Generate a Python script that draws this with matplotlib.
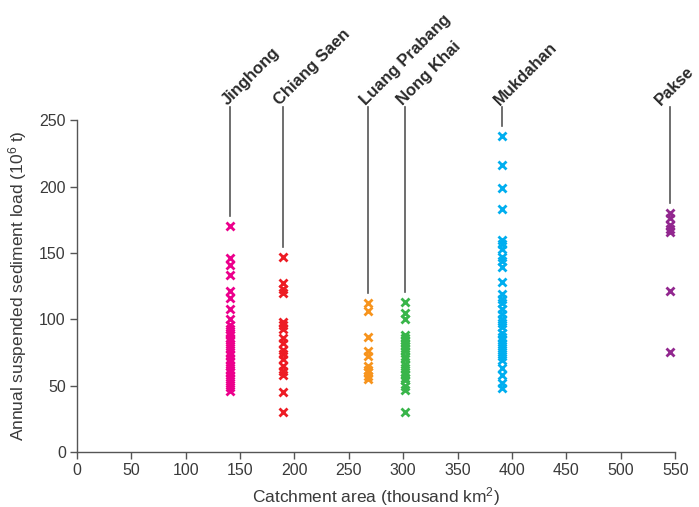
import matplotlib
matplotlib.use("Agg")
import matplotlib.pyplot as plt

# Catchment area (thousand km2) of each gauging station
stations = ["Jinghong", "Chiang Saen", "Luang Prabang", "Nong Khai", "Mukdahan", "Pakse"]
catchment = [141, 189, 268, 302, 391, 545]
colours = ["#EC008C", "#ED1C24", "#F7941D", "#39B54A", "#00AEEF", "#92278F"]

# Annual suspended sediment load (10^6 t) per year of record
load_jinghong = [170, 146, 141, 133, 121, 116, 108, 100, 96, 93, 90, 88, 86, 84,
                 81, 78, 75, 73, 70, 68, 65, 62, 60, 58, 55, 52, 49, 46]
load_chiang_saen = [147, 127, 123, 120, 98, 96, 93, 86, 82, 77, 74, 70, 65, 61,
                    58, 45, 30]
load_luang_prabang = [112, 106, 87, 76, 72, 65, 62, 60, 57, 55]
load_nong_khai = [113, 105, 100, 88, 86, 84, 82, 80, 78, 76, 72, 70, 66, 63, 60,
                  58, 56, 54, 50, 47, 30]
load_mukdahan = [238, 216, 199, 183, 160, 157, 153, 147, 144, 139, 128, 119, 115,
                 112, 108, 104, 100, 97, 94, 90, 87, 84, 81, 78, 75, 72, 69, 63,
                 58, 52, 48]
load_pakse = [180, 176, 171, 168, 166, 121, 75]

loads = [load_jinghong, load_chiang_saen, load_luang_prabang,
         load_nong_khai, load_mukdahan, load_pakse]

plt.rcParams["font.family"] = ["Liberation Sans", "DejaVu Sans"]
plt.rcParams["mathtext.default"] = "regular"

fig = plt.figure(figsize=(6.99, 5.07), dpi=100)
ax = fig.add_axes([0.110, 0.1085, 0.856, 0.6545])

text_col = "#3a3a3a"
axis_col = "#555555"

for name, x, ys, c in zip(stations, catchment, loads, colours):
    ax.plot([x] * len(ys), ys, linestyle="none", marker="x", markersize=6,
            markeredgewidth=2.0, color=c, clip_on=False)
    # leader line from the station name down to the top of its column
    top = max(ys) + 7.5
    ax.plot([x, x], [top, 260], color=axis_col, lw=1.2, clip_on=False)
    # the last label sits at the right edge, pull it in a little
    dx = -9 if x == catchment[-1] else -4
    ax.annotate(name, xy=(x, 260), xytext=(dx, 3), textcoords="offset points",
                rotation=45, rotation_mode="anchor", ha="left", va="center",
                fontsize=12, fontweight="bold", color="#2a2a2a",
                annotation_clip=False)

ax.set_xlim(0, 550)
ax.set_ylim(0, 250)
ax.set_xticks(range(0, 551, 50))
ax.set_yticks(range(0, 251, 50))

for side in ["top", "right"]:
    ax.spines[side].set_visible(False)
for side in ["left", "bottom"]:
    ax.spines[side].set_color(axis_col)
    ax.spines[side].set_linewidth(1.0)

ax.tick_params(axis="both", direction="out", length=5, width=1.0,
               color=axis_col, labelcolor=text_col, labelsize=11.5, pad=3)

ax.set_xlabel("Catchment area (thousand km$^2$)", fontsize=12.5,
              color=text_col, labelpad=5)
ax.set_ylabel("Annual suspended sediment load (10$^6$ t)", fontsize=12.5,
              color=text_col, labelpad=7)

fig.savefig("out.png", dpi=100)
plt.close(fig)
